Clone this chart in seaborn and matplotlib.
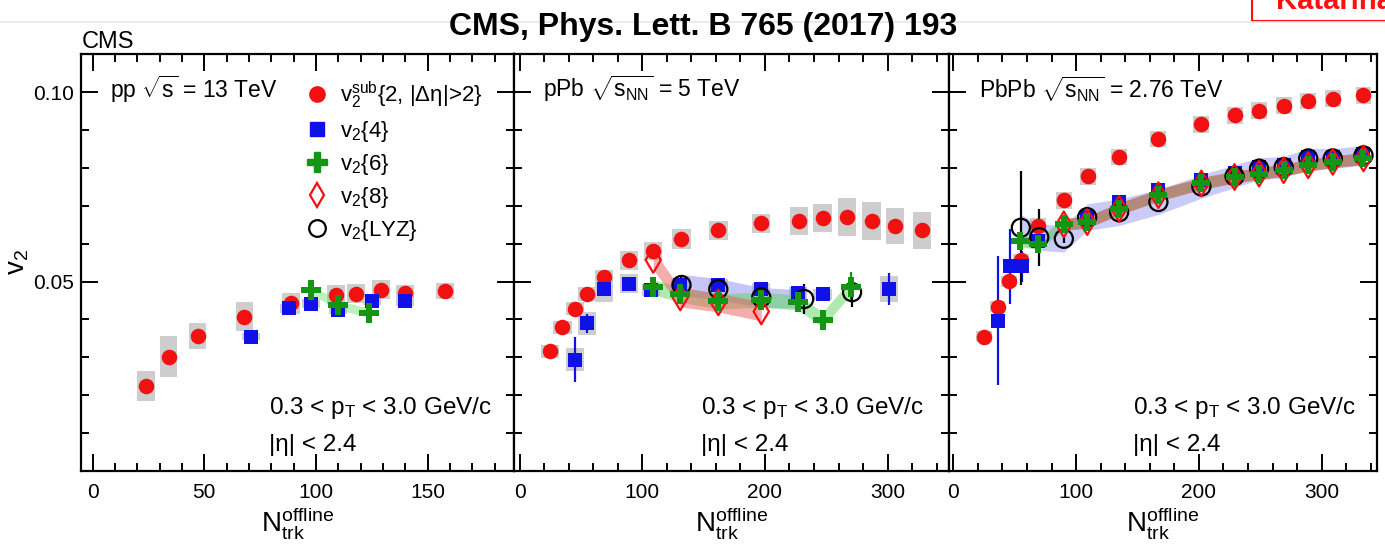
import numpy as np
import matplotlib
matplotlib.use("Agg")
import matplotlib.pyplot as plt
import seaborn as sns
from matplotlib.lines import Line2D
from matplotlib.patches import Rectangle
from matplotlib.ticker import MultipleLocator, FixedLocator, FixedFormatter

# ------------------------------------------------------------------ data
# pp 13 TeV
pp_sub_n = [24, 34, 47, 68, 89, 109, 118, 129, 140, 158]
pp_sub_v = [0.0224, 0.0302, 0.0357, 0.0407, 0.0443, 0.0465, 0.0468, 0.0478, 0.0470, 0.0475]
pp_sub_sys = [0.0040, 0.0054, 0.0034, 0.0038, 0.0028, 0.0025, 0.0025, 0.0025, 0.0022, 0.0022]
pp_c4_n = [71, 88, 98, 110, 125, 140]
pp_c4_v = [0.0355, 0.0430, 0.0441, 0.0425, 0.0450, 0.0448]
pp_c4_sys = [0.0010, 0.0012, 0.0012, 0.0010, 0.0012, 0.0012]
pp_c6_n = [98, 110, 124]
pp_c6_v = [0.0478, 0.0438, 0.0417]
pp_c6_sys = [0.0012, 0.0012, 0.0012]

# pPb 5 TeV
pPb_sub_n = [25, 35, 45, 55, 69, 89, 109, 132, 162, 197, 228, 247, 267, 287, 306, 328]
pPb_sub_v = [0.0316, 0.0379, 0.0428, 0.0468, 0.0511, 0.0556, 0.0580, 0.0613, 0.0635,
             0.0654, 0.0661, 0.0667, 0.0670, 0.0661, 0.0646, 0.0635]
pPb_sub_sys = [0.0017, 0.0017, 0.0017, 0.0018, 0.0020, 0.0026, 0.0024, 0.0026, 0.0026,
               0.0025, 0.0037, 0.0037, 0.0051, 0.0050, 0.0048, 0.0048]
pPb_c4_n = [45, 55, 69, 89, 107, 131, 162, 197, 227, 247, 301]
pPb_c4_v = [0.0294, 0.0390, 0.0480, 0.0494, 0.0478, 0.0491, 0.0491, 0.0480, 0.0470, 0.0466, 0.0480]
pPb_c4_sys = [0.0030, 0.0030, 0.0033, 0.0025, 0.0015, 0.0015, 0.0015, 0.0015, 0.0015, 0.0015, 0.0034]
pPb_c4_err = [0.0060, 0.0025, 0.0005, 0.0005, 0.0008, 0.0010, 0.0008, 0.0008, 0.0010, 0.0010, 0.0042]
pPb_c6_n = [109, 131, 162, 197, 227, 247, 270]
pPb_c6_v = [0.0485, 0.0466, 0.0448, 0.0452, 0.0445, 0.0399, 0.0485]
pPb_c6_err = [0.0022, 0.0010, 0.0010, 0.0010, 0.0012, 0.0012, 0.0040]
pPb_c6_sys = [0.0020, 0.0020, 0.0020, 0.0020, 0.0020, 0.0020, 0.0020]
pPb_c8_n = [109, 131, 162, 197]
pPb_c8_v = [0.0557, 0.0458, 0.0445, 0.0421]
pPb_c8_sys = [0.0025, 0.0025, 0.0025, 0.0025]
pPb_lyz_n = [132, 162, 197, 232, 271]
pPb_lyz_v = [0.0491, 0.0480, 0.0458, 0.0454, 0.0472]
pPb_lyz_err = [0.0020, 0.0010, 0.0010, 0.0040, 0.0040]
pPb_lyz_sys = [0.0028, 0.0028, 0.0026, 0.0024]

# PbPb 2.76 TeV
PbPb_sub_n = [25, 36, 45, 55, 69, 90, 110, 135, 167, 202, 229, 249, 269, 289, 309, 334]
PbPb_sub_v = [0.0355, 0.0434, 0.0501, 0.0556, 0.0648, 0.0714, 0.0778, 0.0829, 0.0876,
              0.0915, 0.0939, 0.0951, 0.0964, 0.0977, 0.0983, 0.0992]
PbPb_sub_sys = [0.0015, 0.0015, 0.0015, 0.0018, 0.0020, 0.0022, 0.0022, 0.0022, 0.0022,
                0.0022, 0.0022, 0.0022, 0.0022, 0.0022, 0.0022, 0.0022]
PbPb_c4_n = [36, 46, 56, 69, 109, 135, 167, 202, 229, 249, 269, 289, 309, 334]
PbPb_c4_v = [0.0397, 0.0540, 0.0540, 0.0608, 0.0670, 0.0710, 0.0741, 0.0769, 0.0787,
             0.0802, 0.0807, 0.0829, 0.0829, 0.0838]
PbPb_c4_err = [0.0170, 0.0100, 0.0040, 0.0010, 0.0005, 0.0005, 0.0005, 0.0005, 0.0005,
               0.0005, 0.0005, 0.0005, 0.0005, 0.0005]
PbPb_c6_n = [54, 69, 90, 109, 135, 167, 202, 229, 249, 269, 289, 309, 334]
PbPb_c6_v = [0.0608, 0.0600, 0.0651, 0.0657, 0.0692, 0.0728, 0.0759, 0.0776, 0.0785,
             0.0794, 0.0807, 0.0816, 0.0825]
PbPb_c6_sys = [0.0015, 0.0015, 0.0015, 0.0015, 0.0015, 0.0015, 0.0015, 0.0015, 0.0015,
               0.0015, 0.0015, 0.0015, 0.0015]
PbPb_c8_n = [90, 109, 135, 167, 202, 229, 249, 269, 289, 309, 334]
PbPb_c8_v = [0.0651, 0.0657, 0.0692, 0.0728, 0.0759, 0.0776, 0.0785, 0.0794, 0.0807, 0.0816, 0.0825]
PbPb_c8_sys = [0.0016, 0.0016, 0.0016, 0.0016, 0.0016, 0.0016, 0.0016, 0.0016, 0.0016, 0.0016, 0.0016]
PbPb_lyz_n = [55, 70, 90, 109, 135, 167, 202, 229, 249, 269, 289, 309, 334]
PbPb_lyz_v = [0.0642, 0.0617, 0.0613, 0.0670, 0.0683, 0.0710, 0.0751, 0.0778, 0.0798,
              0.0802, 0.0825, 0.0825, 0.0833]
PbPb_lyz_err = [0.0150, 0.0075, 0.0010, 0.0005, 0.0005, 0.0005, 0.0005, 0.0005, 0.0005,
                0.0005, 0.0005, 0.0005, 0.0005]
PbPb_lyz_sys = [0.0035, 0.0035, 0.0035, 0.0035, 0.0035, 0.0033, 0.0031, 0.0030, 0.0029,
                0.0028, 0.0027, 0.0026, 0.0026]

panel_labels = [r"pp $\sqrt{\mathrm{s}}$ = 13 TeV",
                r"pPb $\sqrt{\mathrm{s}_{\mathrm{NN}}}$ = 5 TeV",
                r"PbPb $\sqrt{\mathrm{s}_{\mathrm{NN}}}$ = 2.76 TeV"]
x_ticks = [[0, 50, 100, 150], [0, 100, 200, 300], [0, 100, 200, 300]]
y_ticks = [0.05, 0.10]
y_ticklabels = ["0.05", "0.10"]
legend_labels = [r"$\mathrm{v}_2^{\mathrm{sub}}$" + "{2, |Δη|>2}",
                 r"$\mathrm{v}_2$" + "{4}", r"$\mathrm{v}_2$" + "{6}",
                 r"$\mathrm{v}_2$" + "{8}", r"$\mathrm{v}_2$" + "{LYZ}"]

# ------------------------------------------------------------------ style
sns.set_theme(style="ticks")
plt.rcParams["font.family"] = ["Liberation Sans", "DejaVu Sans"]
plt.rcParams["mathtext.fontset"] = "custom"
plt.rcParams["mathtext.rm"] = "Liberation Sans"
plt.rcParams["mathtext.it"] = "Liberation Sans:italic"
plt.rcParams["mathtext.bf"] = "Liberation Sans:bold"
plt.rcParams["mathtext.sf"] = "Liberation Sans"
for key in ["text.color", "axes.labelcolor", "xtick.color", "ytick.color"]:
    plt.rcParams[key] = "black"

RED = "#f21010"
BLUE = "#1010e8"
GREEN = "#149614"
GRAY = "#cdcdcd"

fig = plt.figure(figsize=(13.85, 5.48), dpi=100)
fig.patch.set_facecolor("white")
H = 548.0
W = 1385.0
bottom = (H - 471) / H
height = (471 - 53.5) / H
axes = [fig.add_axes([81 / W, bottom, (513.5 - 81) / W, height]),
        fig.add_axes([513.5 / W, bottom, (949 - 513.5) / W, height]),
        fig.add_axes([949 / W, bottom, (1377 - 949) / W, height])]
xlims = [(-5.2, 188.5), (-4.9, 350), (-3.5, 345)]
minor = [10, 20, 20]


def boxes(ax, n, v, sys, w):
    v = np.asarray(v); sys = np.asarray(sys)
    ax.bar(n, 2 * sys, bottom=v - sys, width=w, color=GRAY, linewidth=0, zorder=1)


def band(ax, n, v, half, color, alpha):
    v = np.asarray(v); half = np.asarray(half)
    ax.fill_between(n, v - half, v + half, color=color, alpha=alpha, linewidth=0, zorder=2)


def errs(ax, n, v, e, color):
    ax.errorbar(n, v, yerr=e, fmt="none", ecolor=color, elinewidth=1.6, capsize=0, zorder=3)


def pts(ax, n, v, kind):
    if kind == "sub":
        sns.scatterplot(x=n, y=v, ax=ax, marker="o", s=125, color=RED, edgecolor=RED,
                        linewidth=0, zorder=4)
    elif kind == "c4":
        sns.scatterplot(x=n, y=v, ax=ax, marker="s", s=95, color=BLUE, edgecolor=BLUE,
                        linewidth=0, zorder=4)
    elif kind == "c6":
        sns.scatterplot(x=n, y=v, ax=ax, marker="P", s=210, color=GREEN, edgecolor=GREEN,
                        linewidth=0, zorder=6)
    elif kind == "c8":
        sns.scatterplot(x=n, y=v, ax=ax, marker="d", s=170, facecolors="none",
                        edgecolor=RED, linewidth=1.6, zorder=5)
    elif kind == "lyz":
        sns.scatterplot(x=n, y=v, ax=ax, marker="o", s=170, facecolors="none",
                        edgecolor="black", linewidth=1.6, zorder=5)


# ---- pp
ax = axes[0]
boxes(ax, pp_sub_n, pp_sub_v, pp_sub_sys, 8)
boxes(ax, pp_c4_n, pp_c4_v, pp_c4_sys, 8)
band(ax, pp_c6_n, pp_c6_v, pp_c6_sys, "#6ee06e", 0.45)
pts(ax, pp_sub_n, pp_sub_v, "sub")
pts(ax, pp_c4_n, pp_c4_v, "c4")
pts(ax, pp_c6_n, pp_c6_v, "c6")

# ---- pPb
ax = axes[1]
boxes(ax, pPb_sub_n, pPb_sub_v, pPb_sub_sys, 15)
boxes(ax, pPb_c4_n, pPb_c4_v, pPb_c4_sys, 15)
band(ax, pPb_lyz_n[:4], pPb_lyz_v[:4], pPb_lyz_sys, "#8c8cf0", 0.5)
band(ax, pPb_c6_n, pPb_c6_v, pPb_c6_sys, "#5fd65f", 0.5)
band(ax, pPb_c8_n, pPb_c8_v, pPb_c8_sys, "#ec5a5a", 0.5)
errs(ax, pPb_c4_n, pPb_c4_v, pPb_c4_err, BLUE)
errs(ax, pPb_c6_n, pPb_c6_v, pPb_c6_err, GREEN)
errs(ax, pPb_lyz_n, pPb_lyz_v, pPb_lyz_err, "black")
pts(ax, pPb_sub_n, pPb_sub_v, "sub")
pts(ax, pPb_c4_n, pPb_c4_v, "c4")
pts(ax, pPb_lyz_n, pPb_lyz_v, "lyz")
pts(ax, pPb_c6_n, pPb_c6_v, "c6")
pts(ax, pPb_c8_n, pPb_c8_v, "c8")

# ---- PbPb
ax = axes[2]
boxes(ax, PbPb_sub_n, PbPb_sub_v, PbPb_sub_sys, 13)
band(ax, PbPb_lyz_n, PbPb_lyz_v, PbPb_lyz_sys, "#8c8cf0", 0.45)
band(ax, PbPb_c6_n, PbPb_c6_v, PbPb_c6_sys, "#5fc05f", 0.55)
band(ax, PbPb_c8_n, PbPb_c8_v, PbPb_c8_sys, "#d85050", 0.5)
errs(ax, PbPb_c4_n, PbPb_c4_v, PbPb_c4_err, BLUE)
errs(ax, PbPb_lyz_n, PbPb_lyz_v, PbPb_lyz_err, "black")
pts(ax, PbPb_sub_n, PbPb_sub_v, "sub")
pts(ax, PbPb_c4_n, PbPb_c4_v, "c4")
pts(ax, PbPb_lyz_n, PbPb_lyz_v, "lyz")
pts(ax, PbPb_c8_n, PbPb_c8_v, "c8")
sns.scatterplot(x=PbPb_c6_n, y=PbPb_c6_v, ax=ax, marker="P", s=150, color=GREEN,
                edgecolor=GREEN, linewidth=0, zorder=6)

# ---- axes styling
for i, ax in enumerate(axes):
    ax.set_xlim(*xlims[i])
    ax.set_ylim(0.0, 0.1102)
    ax.set_facecolor("white")
    for sp in ax.spines.values():
        sp.set_visible(True)
        sp.set_linewidth(1.6)
        sp.set_color("black")
    ax.xaxis.set_major_locator(FixedLocator(x_ticks[i]))
    ax.xaxis.set_minor_locator(MultipleLocator(minor[i]))
    ax.yaxis.set_major_locator(FixedLocator(y_ticks))
    ax.yaxis.set_minor_locator(MultipleLocator(0.01))
    ax.tick_params(which="both", direction="in", top=True, right=True, color="black",
                   width=1.4, labelsize=15, labelcolor="black")
    ax.tick_params(which="major", length=12, pad=9)
    ax.tick_params(axis="y", which="major", pad=5)
    ax.tick_params(which="minor", length=6)
    if i == 0:
        ax.yaxis.set_major_formatter(FixedFormatter(y_ticklabels))
        ax.set_ylabel(r"$\mathrm{v}_2$", fontsize=20)
        ax.yaxis.set_label_coords(-0.115, 0.5)
    else:
        ax.set_yticklabels([])
        ax.set_ylabel("")
    ax.set_xlabel(r"$\mathrm{N}_{\mathrm{trk}}^{\mathrm{offline}}$", fontsize=20, labelpad=2)
    ax.grid(False)
    ax.text(0.068 if i < 2 else 0.07, 0.915, panel_labels[i], transform=ax.transAxes,
            fontsize=16.5, ha="left", va="center")
    ax.text(0.435 if i == 0 else 0.43, 0.151, r"0.3 < p$_{\mathrm{T}}$ < 3.0 GeV/c",
            transform=ax.transAxes, fontsize=17.5, ha="left", va="center")
    ax.text(0.435 if i == 0 else 0.43, 0.062, "|η| < 2.4",
            transform=ax.transAxes, fontsize=17.5, ha="left", va="center")

# ---- legend (pp panel)
handles = [
    Line2D([], [], ls="", marker="o", ms=11, color=RED, mec=RED),
    Line2D([], [], ls="", marker="s", ms=9.5, color=BLUE, mec=BLUE),
    Line2D([], [], ls="", marker="P", ms=14, color=GREEN, mec=GREEN),
    Line2D([], [], ls="", marker="d", ms=12, mfc="none", mec=RED, mew=1.6),
    Line2D([], [], ls="", marker="o", ms=12, mfc="none", mec="black", mew=1.6),
]
leg = axes[0].legend(handles, legend_labels, loc="upper left", bbox_to_anchor=(0.485, 0.975),
                     frameon=False, fontsize=16, handlelength=1.0, handletextpad=0.5,
                     labelspacing=0.36, borderpad=0.2)
leg.set_zorder(10)

# ---- header texts
fig.text(82 / W, 1 - 42 / H, "CMS", fontsize=17, ha="left", va="center")
fig.text(703 / W, 1 - 27 / H, "CMS, Phys. Lett. B 765 (2017) 193", fontsize=23,
         fontweight="bold", ha="center", va="center")
fig.add_artist(Line2D([0, 1], [1 - 22 / H, 1 - 22 / H], transform=fig.transFigure,
                      color="#e6e6e6", lw=1.2))
fig.add_artist(Rectangle((1252 / W, 1 - 21 / H), 0.2, 0.1, transform=fig.transFigure,
                         facecolor="white", edgecolor="#ff1010", lw=1.5, clip_on=False))
fig.text(1276 / W, 1 - 1 / H, "Katarina", fontsize=21, fontweight="bold", color="#ff1010",
         ha="left", va="center")

fig.savefig("out.png", dpi=100, facecolor="white")
